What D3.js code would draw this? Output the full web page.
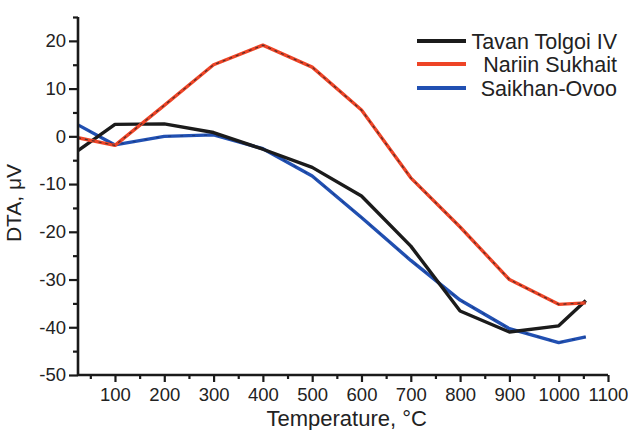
<!DOCTYPE html>
<html>
<head>
<meta charset="utf-8">
<script src="https://cdn.jsdelivr.net/npm/d3@7"></script>
<style>
  body { margin: 0; background: #fff; }
  svg { display: block; font-family: "Liberation Sans", Arial, sans-serif; }
</style>
</head>
<body>
<svg id="chart" width="628" height="430"></svg>
<script>
// temperatures
var temps = [25, 100, 200, 300, 400, 500, 600, 700, 800, 900, 1000, 1055];

// DTA values, µV
var tavanTolgoi = [-3, 2.5, 2.6, 0.8, -2.7, -6.5, -12.5, -23, -36.6, -41, -39.7, -34.4];
var nariinSukhait = [-0.3, -1.9, 6.5, 15, 19.1, 14.5, 5.5, -8.7, -19, -30, -35.2, -34.9];
var saikhanOvoo = [2.4, -1.8, 0, 0.3, -2.6, -8.3, -17, -26, -34.3, -40.3, -43.2, -42];

var seriesNames = ["Tavan Tolgoi IV", "Nariin Sukhait", "Saikhan-Ovoo"];
var seriesColors = ["#1b1b1b", "#ee4426", "#2150b2"];

var xMajor = [100, 200, 300, 400, 500, 600, 700, 800, 900, 1000, 1100];
var xMinor = [50, 150, 250, 350, 450, 550, 650, 750, 850, 950, 1050];
var yMajor = [-50, -40, -30, -20, -10, 0, 10, 20];
var yMinor = [-45, -35, -25, -15, -5, 5, 15, 25];

var svg = d3.select("#chart");
var margin = { top: 17, right: 20, bottom: 55, left: 78 };
var width = 628 - margin.left - margin.right;
var height = 430 - margin.top - margin.bottom;

var x = d3.scaleLinear().domain([25, 1100]).range([0, width]);
var y = d3.scaleLinear().domain([-50, 25]).range([height, 0]);

var g = svg.append("g").attr("transform", `translate(${margin.left},${margin.top})`);

// lines
var data = [tavanTolgoi, nariinSukhait, saikhanOvoo];
var line = d3.line()
    .x((d, i) => x(temps[i]))
    .y(d => y(d));

// draw blue first, black, then red on top like the reference
[2, 0, 1].forEach(function(k) {
    g.append("path")
        .datum(data[k])
        .attr("fill", "none")
        .attr("stroke", seriesColors[k])
        .attr("stroke-width", 3.4)
        .attr("stroke-linejoin", "round")
        .attr("d", line);
});

// the dark dashed core visible inside the red and blue curves
g.append("path")
    .datum(nariinSukhait)
    .attr("fill", "none")
    .attr("stroke", "#3a2a2a")
    .attr("stroke-width", 1.2)
    .attr("stroke-dasharray", "3,4")
    .attr("opacity", 0.85)
    .attr("d", line);
g.append("path")
    .datum(saikhanOvoo)
    .attr("fill", "none")
    .attr("stroke", "#10204a")
    .attr("stroke-width", 1)
    .attr("stroke-dasharray", "3,9")
    .attr("opacity", 0.5)
    .attr("d", line);

// axes
var axisColor = "#1a1a1a";
var plainFormat = d => String(d);   // hyphen minus, as in the source figure

var xAxis = g.append("g").attr("transform", `translate(0,${height})`)
    .call(d3.axisBottom(x).tickValues(xMajor).tickSize(7).tickPadding(6).tickFormat(plainFormat));
var xAxisMinor = g.append("g").attr("transform", `translate(0,${height})`)
    .call(d3.axisBottom(x).tickValues(xMinor).tickSize(4).tickFormat(""));

var yAxis = g.append("g")
    .call(d3.axisLeft(y).tickValues(yMajor).tickSize(9).tickPadding(3).tickFormat(plainFormat));
var yAxisMinor = g.append("g")
    .call(d3.axisLeft(y).tickValues(yMinor).tickSize(5).tickFormat(""));

[xAxis, xAxisMinor, yAxis, yAxisMinor].forEach(function(a) {
    a.select(".domain").remove();
    a.selectAll("line").attr("stroke", axisColor).attr("stroke-width", 2.2);
    a.selectAll("text")
        .attr("fill", "#222")
        .style("font-size", "18.5px")
        .style("font-family", "'Liberation Sans', Arial, sans-serif");
});

// axis lines drawn separately so they extend to the frame edges
g.append("line")
    .attr("x1", 0).attr("x2", x(1100))
    .attr("y1", height).attr("y2", height)
    .attr("stroke", axisColor).attr("stroke-width", 2.6);
g.append("line")
    .attr("x1", 0).attr("x2", 0)
    .attr("y1", y(25)).attr("y2", height)
    .attr("stroke", axisColor).attr("stroke-width", 2.6);

// axis titles
svg.append("text")
    .attr("x", margin.left + x(570))
    .attr("y", 426)
    .attr("text-anchor", "middle")
    .attr("fill", "#222")
    .style("font-size", "22px")
    .text("Temperature, °C");

svg.append("text")
    .attr("transform", "translate(21,203) rotate(-90)")
    .attr("text-anchor", "middle")
    .attr("fill", "#222")
    .style("font-size", "21px")
    .text("DTA, μV");

// legend
var legend = svg.append("g");
var legendY = [41, 64, 88];
seriesNames.forEach(function(name, i) {
    legend.append("line")
        .attr("x1", 417).attr("x2", 466)
        .attr("y1", legendY[i]).attr("y2", legendY[i])
        .attr("stroke", seriesColors[i])
        .attr("stroke-width", 4);
    legend.append("text")
        .attr("x", 617)
        .attr("y", legendY[i])
        .attr("dy", "0.36em")
        .attr("text-anchor", "end")
        .attr("fill", "#222")
        .style("font-size", "21.5px")
        .text(name);
});
</script>
</body>
</html>
